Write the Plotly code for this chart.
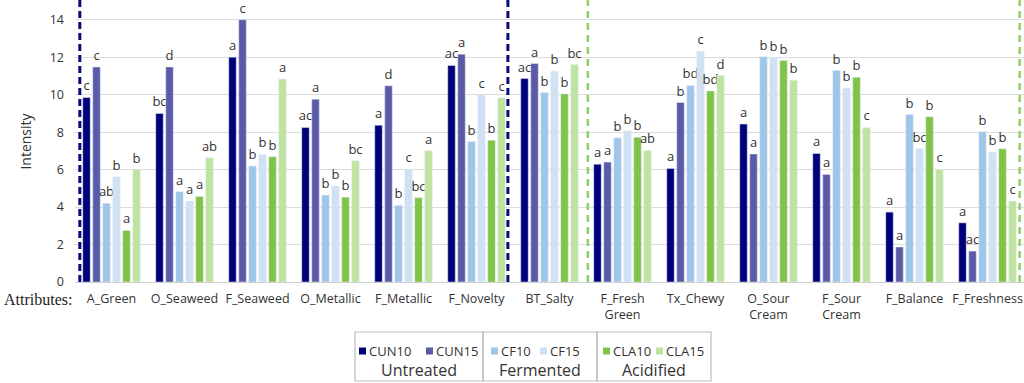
import plotly.graph_objects as go

categories = ["A_Green", "O_Seaweed", "F_Seaweed", "O_Metallic", "F_Metallic", "F_Novelty",
              "BT_Salty", "F_Fresh<br>Green", "Tx_Chewy", "O_Sour<br>Cream", "F_Sour<br>Cream",
              "F_Balance", "F_Freshness"]
series_names = ["CUN10", "CUN15", "CF10", "CF15", "CLA10", "CLA15"]

CUN10 = [9.85, 9.0, 12.0, 8.25, 8.37, 11.56, 10.86, 6.29, 6.06, 8.43, 6.86, 3.73, 3.16]
CUN15 = [11.48, 11.48, 14.0, 9.76, 10.47, 12.16, 11.66, 6.40, 9.58, 6.83, 5.74, 1.87, 1.65]
CF10 = [4.20, 4.82, 6.19, 4.64, 4.09, 7.50, 10.11, 7.70, 10.49, 12.02, 11.29, 8.94, 8.02]
CF15 = [5.62, 4.32, 6.81, 5.12, 6.01, 9.99, 11.25, 8.07, 12.32, 11.98, 10.35, 7.11, 6.92]
CLA10 = [2.75, 4.57, 6.68, 4.53, 4.50, 7.57, 10.04, 7.73, 10.20, 11.82, 10.93, 8.82, 7.11]
CLA15 = [6.00, 6.63, 10.83, 6.47, 7.00, 9.83, 11.61, 7.02, 11.02, 10.77, 8.25, 6.01, 4.32]

L_CUN10 = ["c", "bc", "a", "ac", "a", "ac", "ac", "a", "a", "a", "a", "a", "a"]
L_CUN15 = ["c", "d", "c", "a", "d", "a", "a", "a", "b", "a", "a", "a", "ac"]
L_CF10 = ["ab", "a", "b", "b", "b", "b", "b", "b", "bd", "b", "b", "b", "b"]
L_CF15 = ["b", "a", "b", "b", "c", "c", "b", "b", "c", "b", "b", "bc", "b"]
L_CLA10 = ["a", "a", "b", "b", "bc", "b", "b", "b", "bd", "b", "b", "b", "b"]
L_CLA15 = ["b", "ab", "a", "bc", "a", "c", "bc", "ab", "d", "b", "c", "c", "c"]

group_names = ["Untreated", "Fermented", "Acidified"]
y_ticks = [0, 2, 4, 6, 8, 10, 12, 14]

colors = ["#00007a", "#5a5aa6", "#9fc5e8", "#cfe1f3", "#80c447", "#bfe3a0"]
values = [CUN10, CUN15, CF10, CF15, CLA10, CLA15]
letters = [L_CUN10, L_CUN15, L_CF10, L_CF15, L_CLA10, L_CLA15]

W, H = 1024, 383
ML, MR, MT, MB = 75, 0, 1, 101
PW, PH = W - ML - MR, H - MT - MB

def px(x):
    return (x - ML) / PW

def py(y):
    return (H - MB - y) / PH

fig = go.Figure()
for name, vals, labs, col in zip(series_names, values, letters, colors):
    fig.add_trace(go.Bar(
        x=list(range(len(categories))), y=vals, name=name, marker_color=col,
        text=labs, textposition="outside", constraintext="none", cliponaxis=False,
        textfont=dict(family="Open Sans", size=13, color="#333333"),
        showlegend=False,
    ))

fig.update_layout(
    width=W, height=H, margin=dict(l=ML, r=MR, t=MT, b=MB, autoexpand=False),
    paper_bgcolor="white", plot_bgcolor="white",
    barmode="group", bargap=0.178, bargroupgap=0.25,
    font=dict(family="Open Sans", color="#333333"),
    xaxis=dict(range=[-0.5, 12.5], tickmode="array", tickvals=list(range(len(categories))),
               ticktext=categories, tickfont=dict(size=12.5, color="#333333"),
               showgrid=False, showline=False, zeroline=False, ticklabelstandoff=7,
               automargin=False),
    yaxis=dict(range=[0, 15], tickvals=y_ticks, tickfont=dict(size=12.5, color="#333333"),
               showgrid=True, gridcolor="#dcdcdc", gridwidth=1,
               zeroline=True, zerolinecolor="#cfcfcf", zerolinewidth=1,
               ticklabelstandoff=10, automargin=False,
               title=dict(text="Intensity", font=dict(size=14, color="#333333"), standoff=14)),
)

# dashed group separators
for xv, col, w, dash in [(-0.434, "#0a0a78", 3, "7px,4px"), (5.43, "#0a0a78", 3, "7px,4px"),
                         (6.525, "#8fd06a", 2.5, "7px,5px"), (12.44, "#8fd06a", 2.5, "7px,5px")]:
    fig.add_shape(type="line", xref="x", yref="paper", x0=xv, x1=xv, y0=0, y1=py(0),
                  line=dict(color=col, width=w, dash=dash), layer="above")

# "Attributes:" label
fig.add_annotation(text="Attributes:", xref="paper", yref="paper", x=px(2), y=py(299),
                   xanchor="left", yanchor="middle", showarrow=False,
                   font=dict(family="Liberation Serif", size=16, color="#222222"))

# custom legend box
box_x = [355, 483, 597, 711]
box_y0, box_y1 = 332, 381
for i in range(3):
    fig.add_shape(type="rect", xref="paper", yref="paper",
                  x0=px(box_x[i]), x1=px(box_x[i + 1]), y0=py(box_y1), y1=py(box_y0),
                  line=dict(color="#bdbdbd", width=1.2), fillcolor="rgba(0,0,0,0)")

sq_x = [359, 426, 491, 540, 603, 656]
for name, col, sx in zip(series_names, colors, sq_x):
    fig.add_shape(type="rect", xref="paper", yref="paper",
                  x0=px(sx), x1=px(sx + 7), y0=py(354.5), y1=py(347.5),
                  line=dict(width=0), fillcolor=col)
    fig.add_annotation(text=name, xref="paper", yref="paper", x=px(sx + 7.5), y=py(351),
                       xanchor="left", yanchor="middle", showarrow=False,
                       font=dict(family="Open Sans", size=13, color="#333333"))

for i, g in enumerate(group_names):
    cx = (box_x[i] + box_x[i + 1]) / 2
    fig.add_annotation(text=g, xref="paper", yref="paper", x=px(cx), y=py(369.5),
                       xanchor="center", yanchor="middle", showarrow=False,
                       font=dict(family="Open Sans", size=16, color="#333333"))

fig.write_html("out.html", config={"displayModeBar": False},
               post_script="document.body.style.margin='0';document.body.style.overflow='hidden';")
